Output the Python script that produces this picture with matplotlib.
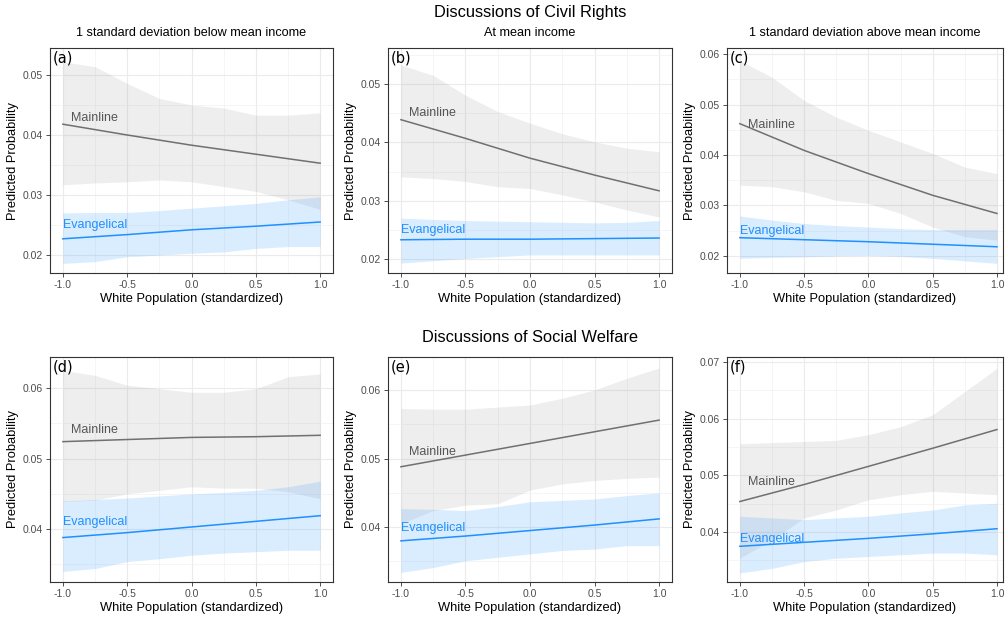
import numpy as np
import matplotlib
matplotlib.use("Agg")
import matplotlib.pyplot as plt
from matplotlib.ticker import MultipleLocator, FormatStrFormatter

plt.rcParams['font.family'] = ['Liberation Sans', 'DejaVu Sans']
plt.rcParams['axes.unicode_minus'] = False

# x grid used for lines and confidence bands
x_line = [-1.0, -0.5, 0.0, 0.5, 1.0]
x_band = [-1.0, -0.75, -0.5, -0.25, 0.0, 0.25, 0.5, 0.75, 1.0]

panel_tags = ['(a)', '(b)', '(c)', '(d)', '(e)', '(f)']
subtitles = ['1 standard deviation below mean income', 'At mean income',
             '1 standard deviation above mean income']

# Mainline predicted probabilities
main_line = [
    [0.0418, 0.0400, 0.0383, 0.0368, 0.0353],
    [0.0439, 0.0407, 0.0373, 0.0344, 0.0317],
    [0.0462, 0.0409, 0.0363, 0.0320, 0.0284],
    [0.0524, 0.0527, 0.0530, 0.0531, 0.0533],
    [0.0488, 0.0505, 0.0522, 0.0539, 0.0556],
    [0.0454, 0.0484, 0.0516, 0.0548, 0.0581],
]
main_upper = [
    [0.0522, 0.0514, 0.0486, 0.0461, 0.0450, 0.0445, 0.0433, 0.0433, 0.0437],
    [0.0533, 0.0515, 0.0481, 0.0453, 0.0433, 0.0415, 0.0401, 0.0390, 0.0384],
    [0.0587, 0.0554, 0.0508, 0.0475, 0.0449, 0.0426, 0.0403, 0.0376, 0.0363],
    [0.0625, 0.0618, 0.0604, 0.0599, 0.0594, 0.0594, 0.0599, 0.0616, 0.0620],
    [0.0573, 0.0572, 0.0572, 0.0575, 0.0578, 0.0588, 0.0600, 0.0617, 0.0632],
    [0.0556, 0.0558, 0.0560, 0.0562, 0.0572, 0.0586, 0.0607, 0.0648, 0.0689],
]
main_lower = [
    [0.0317, 0.0320, 0.0322, 0.0325, 0.0322, 0.0314, 0.0306, 0.0292, 0.0276],
    [0.0341, 0.0338, 0.0333, 0.0324, 0.0321, 0.0310, 0.0298, 0.0284, 0.0272],
    [0.0340, 0.0337, 0.0327, 0.0310, 0.0304, 0.0284, 0.0257, 0.0238, 0.0231],
    [0.0439, 0.0441, 0.0450, 0.0455, 0.0460, 0.0458, 0.0458, 0.0453, 0.0443],
    [0.0405, 0.0424, 0.0432, 0.0434, 0.0454, 0.0463, 0.0468, 0.0471, 0.0473],
    [0.0354, 0.0386, 0.0425, 0.0439, 0.0457, 0.0466, 0.0472, 0.0469, 0.0466],
]

# Evangelical predicted probabilities
evan_line = [
    [0.0227, 0.0234, 0.0242, 0.0248, 0.0255],
    [0.0233, 0.0234, 0.0234, 0.0235, 0.0236],
    [0.0236, 0.0232, 0.0228, 0.0223, 0.0218],
    [0.0388, 0.0395, 0.0403, 0.0411, 0.0419],
    [0.0380, 0.0387, 0.0395, 0.0403, 0.0412],
    [0.0375, 0.0382, 0.0389, 0.0397, 0.0406],
]
evan_upper = [
    [0.0270, 0.0271, 0.0271, 0.0274, 0.0278, 0.0282, 0.0286, 0.0292, 0.0297],
    [0.0270, 0.0268, 0.0266, 0.0265, 0.0264, 0.0263, 0.0262, 0.0263, 0.0266],
    [0.0279, 0.0271, 0.0264, 0.0260, 0.0257, 0.0254, 0.0252, 0.0252, 0.0252],
    [0.0440, 0.0442, 0.0444, 0.0447, 0.0450, 0.0452, 0.0455, 0.0460, 0.0468],
    [0.0427, 0.0426, 0.0424, 0.0430, 0.0437, 0.0439, 0.0441, 0.0446, 0.0450],
    [0.0428, 0.0425, 0.0422, 0.0425, 0.0428, 0.0434, 0.0439, 0.0448, 0.0451],
]
evan_lower = [
    [0.0186, 0.0189, 0.0197, 0.0200, 0.0203, 0.0205, 0.0211, 0.0214, 0.0214],
    [0.0193, 0.0197, 0.0201, 0.0204, 0.0207, 0.0207, 0.0207, 0.0207, 0.0207],
    [0.0195, 0.0197, 0.0198, 0.0200, 0.0201, 0.0199, 0.0195, 0.0190, 0.0185],
    [0.0340, 0.0344, 0.0354, 0.0358, 0.0363, 0.0366, 0.0368, 0.0370, 0.0370],
    [0.0334, 0.0341, 0.0351, 0.0356, 0.0361, 0.0366, 0.0368, 0.0373, 0.0373],
    [0.0328, 0.0336, 0.0348, 0.0354, 0.0357, 0.0360, 0.0363, 0.0363, 0.0360],
]

# where the group labels sit (y value of label centre)
main_label_y = [0.0429, 0.0450, 0.0459, 0.0540, 0.0510, 0.0489]
evan_label_y = [0.0250, 0.0250, 0.0250, 0.0410, 0.0399, 0.0388]

ylims = [(0.0170, 0.0545), (0.0176, 0.0562), (0.0166, 0.0612),
         (0.0325, 0.0644), (0.0320, 0.0648), (0.0312, 0.0709)]

W, H = 1005, 617
fig = plt.figure(figsize=(W / 100, H / 100), dpi=100)

col_left = [50, 388, 727]
col_right = [333, 672, 1003]
xlims = [(-1.1, 1.1), (-1.1, 1.1), (-1.1, 1.047)]
row_top = [48, 357]
row_bot = [273, 582]

grey_line = '#707070'
blue = '#1E90FF'

for i in range(6):
    r, c = divmod(i, 3)
    ax = fig.add_axes([col_left[c] / W, 1 - row_bot[r] / H,
                       (col_right[c] - col_left[c]) / W, (row_bot[r] - row_top[r]) / H])
    ax.fill_between(x_band, main_lower[i], main_upper[i], color='#808080', alpha=0.13, lw=0)
    ax.fill_between(x_band, evan_lower[i], evan_upper[i], color=blue, alpha=0.16, lw=0)
    ax.plot(x_line, main_line[i], color=grey_line, lw=1.1)
    ax.plot(x_line, evan_line[i], color=blue, lw=1.1)
    ax.text(-0.94, main_label_y[i], 'Mainline', color='#555555', fontsize=9, va='center', ha='left')
    ax.text(-1.0, evan_label_y[i], 'Evangelical', color=blue, fontsize=9, va='center', ha='left')
    ax.text(0.01, 0.99, panel_tags[i], transform=ax.transAxes, fontsize=10.5,
            family='DejaVu Sans', va='top', ha='left', color='black')

    ax.set_xlim(*xlims[c])
    ax.set_ylim(*ylims[i])
    ax.xaxis.set_major_locator(MultipleLocator(0.5))
    ax.xaxis.set_minor_locator(MultipleLocator(0.25))
    ax.yaxis.set_major_locator(MultipleLocator(0.01))
    ax.yaxis.set_minor_locator(MultipleLocator(0.005))
    ax.xaxis.set_major_formatter(FormatStrFormatter('%.1f'))
    ax.yaxis.set_major_formatter(FormatStrFormatter('%.2f'))
    ax.grid(which='major', color='#ebebeb', lw=0.8)
    ax.grid(which='minor', color='#f2f2f2', lw=0.5)
    ax.set_axisbelow(True)
    ax.tick_params(which='major', length=3, width=0.6, color='#333333',
                   labelsize=7.5, labelcolor='#4d4d4d', pad=2)
    ax.tick_params(which='minor', length=0)
    for s in ax.spines.values():
        s.set_color('#333333')
        s.set_linewidth(0.8)
    ax.set_xlabel('White Population (standardized)', fontsize=9.3, labelpad=2)
    ax.set_ylabel('Predicted Probability', fontsize=9.3, labelpad=3)
    if r == 0:
        ax.set_title(subtitles[c], fontsize=9.1, pad=9)

fig.text(530 / W, 1 - 13 / H, 'Discussions of Civil Rights', fontsize=11.8, ha='center', va='center')
fig.text(530 / W, 1 - 337 / H, 'Discussions of Social Welfare', fontsize=11.8, ha='center', va='center')

fig.savefig('out.png', dpi=100)
